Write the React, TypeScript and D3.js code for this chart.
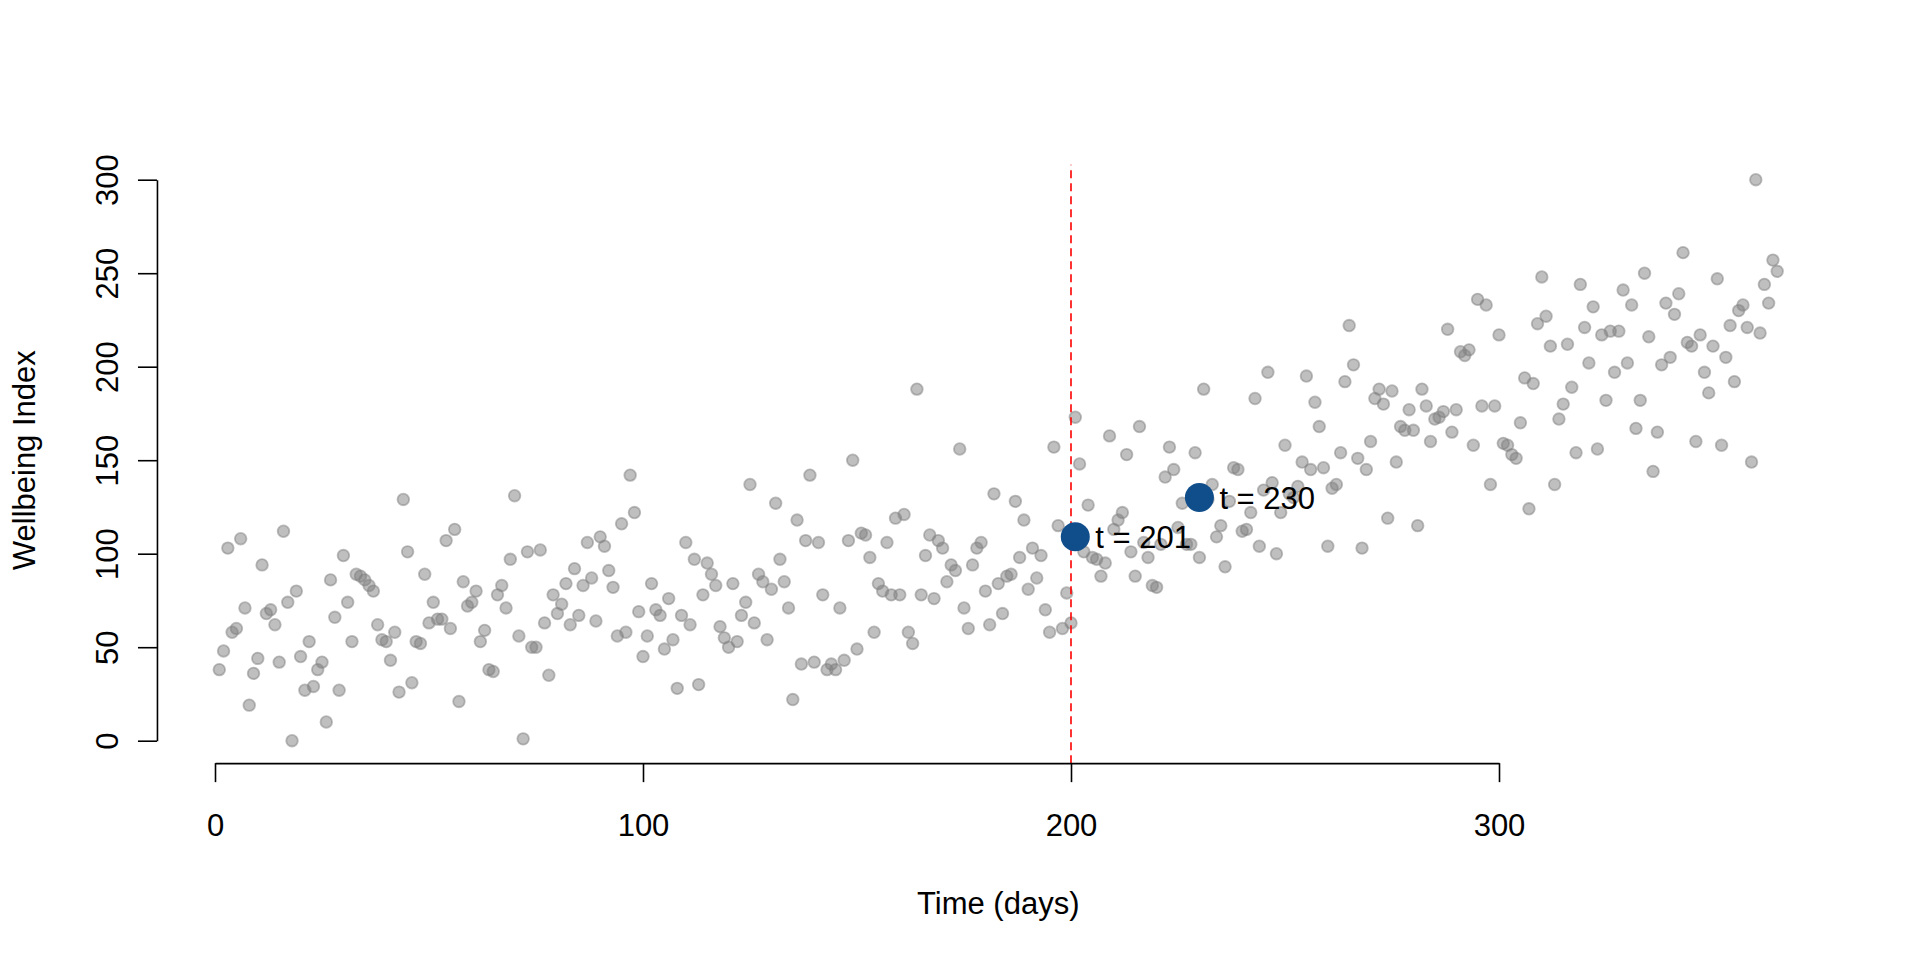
import { useRef, useEffect } from 'react'
import * as d3 from 'd3'

const WIDTH = 1920
const HEIGHT = 960

// daily wellbeing index, one value per day starting at day 1
const wellbeing = [
  38, 48, 103, 58, 60, 108, 71, 19, 36, 44,
  94, 68, 70, 62, 42, 112, 74, 0, 80, 45,
  27, 53, 29, 38, 42, 10, 86, 66, 27, 99,
  74, 53, 89, 88, 86, 83, 80, 62, 54, 53,
  43, 58, 26, 129, 101, 31, 53, 52, 89, 63,
  74, 65, 65, 107, 60, 113, 21, 85, 72, 74,
  80, 53, 59, 38, 37, 78, 83, 71, 97, 131,
  56, 1, 101, 50, 50, 102, 63, 35, 78, 68,
  73, 84, 62, 92, 67, 83, 106, 87, 64, 109,
  104, 91, 82, 56, 116, 58, 142, 122, 69, 45,
  56, 84, 70, 67, 49, 76, 54, 28, 67, 106,
  62, 97, 30, 78, 95, 89, 83, 61, 55, 50,
  84, 53, 67, 74, 137, 63, 89, 85, 54, 81,
  127, 97, 85, 71, 22, 118, 41, 107, 142, 42,
  106, 78, 38, 41, 38, 71, 43, 107, 150, 49,
  111, 110, 98, 58, 84, 80, 106, 78, 119, 78,
  121, 58, 52, 188, 78, 99, 110, 76, 107, 103,
  85, 94, 91, 156, 71, 60, 94, 103, 106, 80,
  62, 132, 84, 68, 88, 89, 128, 98, 118, 81,
  103, 87, 99, 70, 58, 157, 115, 60, 79, 63,
  173, 148, 101, 126, 98, 97, 88, 95, 163, 113,
  118, 122, 153, 101, 88, 168, 106, 98, 83, 82,
  105, 141, 157, 145, 114, 127, 105, 105, 154, 98,
  188, 129, 137, 109, 115, 93, 128, 146, 145, 112,
  113, 122, 183, 104, 134, 197, 138, 100, 122, 158,
  132, 130, 136, 149, 195, 145, 181, 168, 146, 104,
  135, 137, 154, 192, 222, 201, 151, 103, 145, 160,
  183, 188, 180, 119, 187, 149, 168, 166, 177, 166,
  115, 188, 179, 160, 172, 173, 176, 220, 165, 177,
  208, 206, 209, 158, 236, 179, 233, 137, 179, 217,
  159, 158, 153, 151, 170, 194, 124, 191, 223, 248,
  227, 211, 137, 172, 180, 212, 189, 154, 244, 221,
  202, 232, 156, 217, 182, 219, 197, 219, 241, 202,
  233, 167, 182, 250, 216, 144, 165, 201, 234, 205,
  228, 239, 261, 213, 211, 160, 217, 197, 186, 211,
  247, 158, 205, 222, 192, 230, 233, 221, 149, 300,
  218, 244, 234, 257, 251,
]

// highlighted time points
const highlightDays = [201, 230]
const highlightValues = [109, 130]

const cutoffDay = 200
const xTicks = [0, 100, 200, 300]
const yTicks = [0, 50, 100, 150, 200, 250, 300]

const FONT = 'Liberation Sans, Arial, Helvetica, sans-serif'

export default function App() {
  const svgRef = useRef<SVGSVGElement>(null)

  useEffect(() => {
    if (!svgRef.current) return
    const svg = d3.select(svgRef.current)
    svg.selectAll('*').remove()

    const x = d3.scaleLinear().domain([0, 300]).range([215, 1499])
    const y = d3.scaleLinear().domain([0, 300]).range([740.7, 179.7])

    // plot region (R-style 4% padding)
    const xLeft = x(1 - 0.04 * 364)
    const xRight = x(365 + 0.04 * 364)
    const yTop = y(312)
    const yBottom = y(-12)

    svg.append('rect').attr('width', WIDTH).attr('height', HEIGHT).attr('fill', '#fff')

    // grey daily points
    svg
      .append('g')
      .selectAll('circle')
      .data(wellbeing)
      .join('circle')
      .attr('cx', (_, i) => x(i + 1))
      .attr('cy', (d) => y(d))
      .attr('r', 5.8)
      .attr('fill', 'rgba(127,127,127,0.5)')
      .attr('stroke', 'rgba(127,127,127,0.5)')
      .attr('stroke-width', 1.8)

    // cutoff line, drawn bottom to top like abline
    svg
      .append('line')
      .attr('x1', x(cutoffDay))
      .attr('x2', x(cutoffDay))
      .attr('y1', yBottom)
      .attr('y2', y(308))
      .attr('stroke', '#FF0000')
      .attr('stroke-width', 1.6)
      .attr('stroke-dasharray', '8,5')

    // highlighted points + labels
    const hl = svg
      .append('g')
      .selectAll('g')
      .data(highlightDays.map((t, i) => ({ t, v: highlightValues[i] })))
      .join('g')
    hl.append('circle')
      .attr('cx', (d) => x(d.t))
      .attr('cy', (d) => y(d.v))
      .attr('r', 14.5)
      .attr('fill', '#104E8B')
    hl.append('text')
      .attr('x', (d) => x(d.t) + 20)
      .attr('y', (d) => y(d.v))
      .attr('dy', '0.36em')
      .attr('font-family', FONT)
      .attr('font-size', 31)
      .attr('fill', '#000')
      .text((d) => `t = ${d.t}`)

    // x axis
    const gx = svg
      .append('g')
      .attr('transform', `translate(0, ${yBottom})`)
      .call(d3.axisBottom(x).tickValues(xTicks).tickSize(19).tickSizeOuter(0).tickPadding(32))
    gx.attr('font-family', FONT).attr('font-size', 31).attr('color', '#000')
    gx.selectAll('path, line').attr('stroke-width', 1.6)

    // y axis
    const gy = svg
      .append('g')
      .attr('transform', `translate(${xLeft}, 0)`)
      .call(d3.axisLeft(y).tickValues(yTicks).tickSize(19).tickSizeOuter(0))
    gy.attr('font-family', FONT).attr('font-size', 31).attr('color', '#000')
    gy.selectAll('path, line').attr('stroke-width', 1.6)
    gy.selectAll('text')
      .attr('x', null)
      .attr('dy', null)
      .attr('text-anchor', 'middle')
      .attr('transform', `translate(${118 - xLeft}, 0) rotate(-90)`)

    // axis titles
    svg
      .append('text')
      .attr('x', (xLeft + xRight) / 2)
      .attr('y', 914)
      .attr('text-anchor', 'middle')
      .attr('font-family', FONT)
      .attr('font-size', 31)
      .text('Time (days)')

    svg
      .append('text')
      .attr('transform', `translate(34.5, ${(yTop + yBottom) / 2}) rotate(-90)`)
      .attr('text-anchor', 'middle')
      .attr('font-family', FONT)
      .attr('font-size', 31)
      .text('Wellbeing Index')

    return () => {
      svg.selectAll('*').remove()
    }
  }, [])

  return (
    <svg
      ref={svgRef}
      width={WIDTH}
      height={HEIGHT}
      style={{ position: 'absolute', left: 0, top: 0, display: 'block' }}
    />
  )
}
